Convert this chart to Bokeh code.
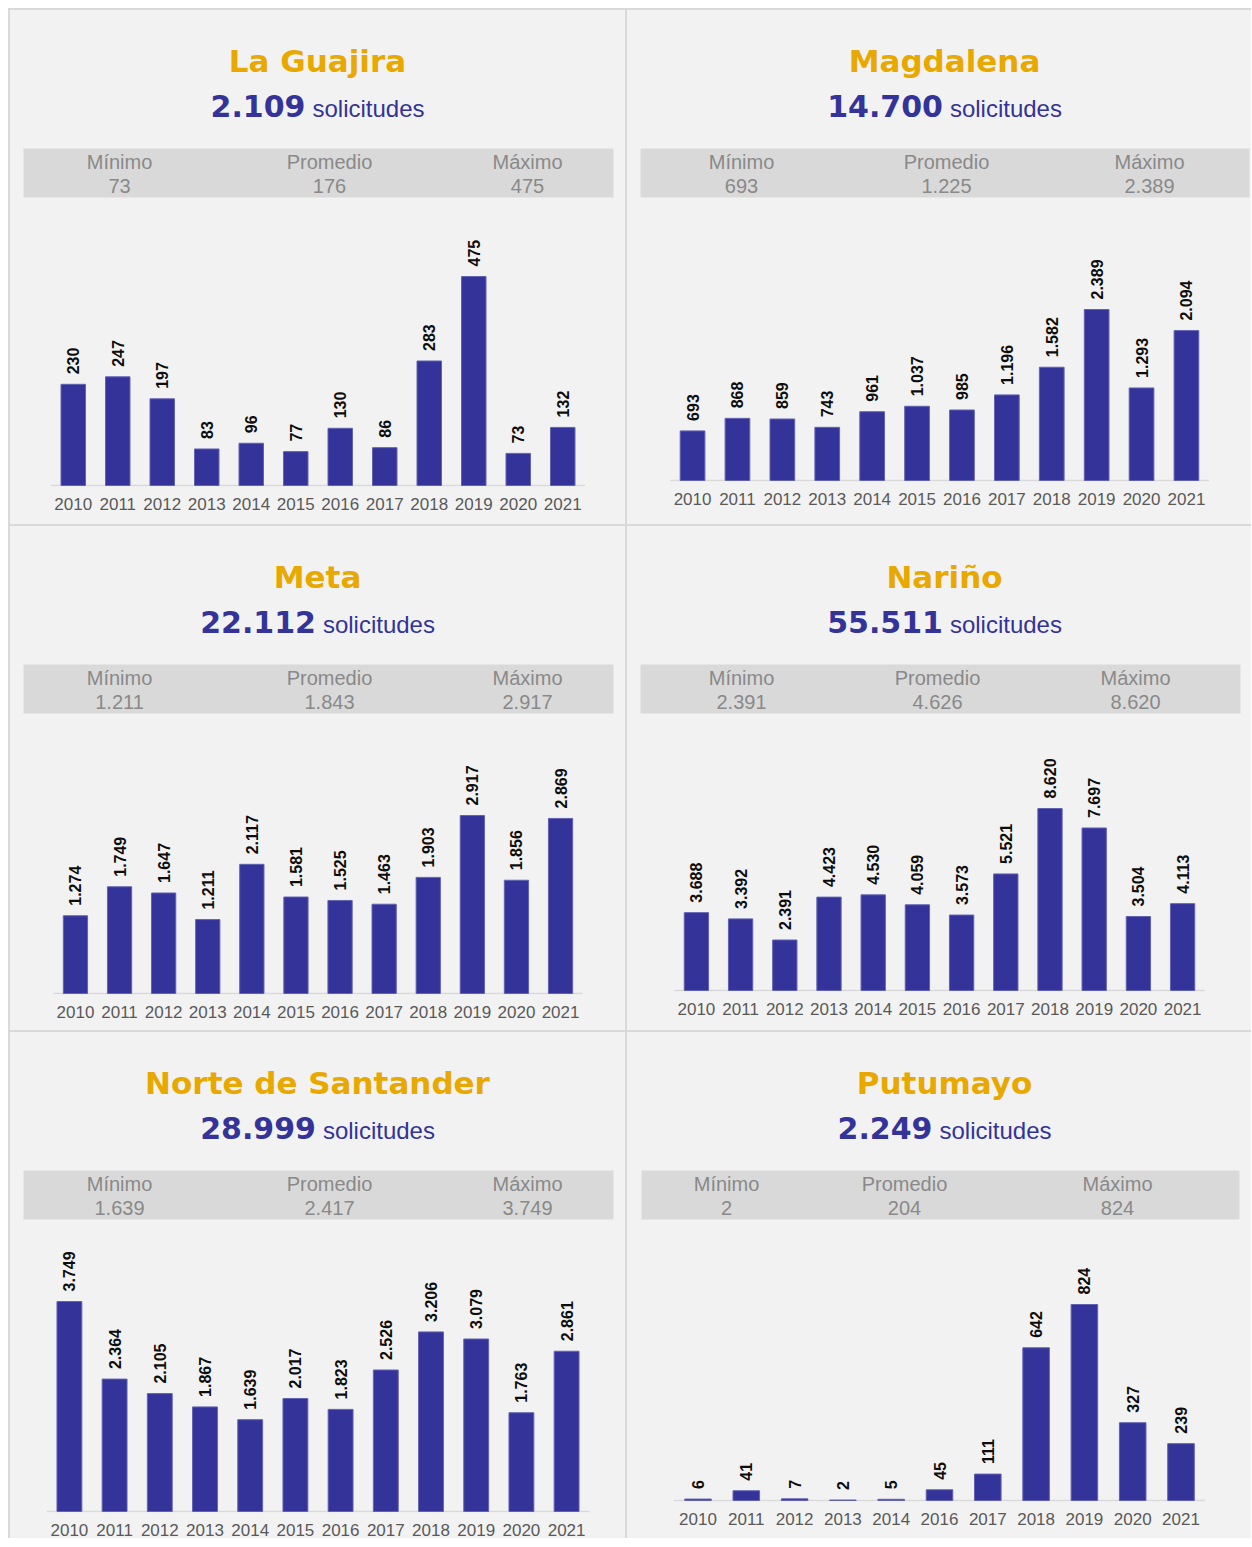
import math
from bokeh.plotting import figure
from bokeh.layouts import column, row
from bokeh.models import Range1d, FactorRange, ColumnDataSource
from bokeh.core.properties import value
from bokeh.transform import dodge
from bokeh.embed import file_html
from bokeh.resources import INLINE

# ---------------- data ----------------
YEARS = ["2010", "2011", "2012", "2013", "2014", "2015",
         "2016", "2017", "2018", "2019", "2020", "2021"]
YEARS_PUTUMAYO = ["2010", "2011", "2012", "2013", "2014",
                  "2016", "2017", "2018", "2019", "2020", "2021"]

names = ["La Guajira", "Magdalena", "Meta", "Nariño",
         "Norte de Santander", "Putumayo"]

la_guajira = [230, 247, 197, 83, 96, 77, 130, 86, 283, 475, 73, 132]
magdalena = [693, 868, 859, 743, 961, 1037, 985, 1196, 1582, 2389, 1293, 2094]
meta = [1274, 1749, 1647, 1211, 2117, 1581, 1525, 1463, 1903, 2917, 1856, 2869]
narino = [3688, 3392, 2391, 4423, 4530, 4059, 3573, 5521, 8620, 7697, 3504, 4113]
norte_santander = [3749, 2364, 2105, 1867, 1639, 2017, 1823, 2526, 3206, 3079, 1763, 2861]
putumayo = [6, 41, 7, 2, 5, 45, 111, 642, 824, 327, 239]

series = [la_guajira, magdalena, meta, narino, norte_santander, putumayo]
years_list = [YEARS, YEARS, YEARS, YEARS, YEARS, YEARS_PUTUMAYO]

stat_titles = ["Mínimo", "Promedio", "Máximo"]

# ---------------- style / layout ----------------
BG = "#f2f2f2"
LINE = "#d9d9d9"
ORANGE = "#E8A800"
BLUE = "#333399"
STAT_GREY = "#898989"
YEAR_GREY = "#595959"

HH = 192  # header height (px)

# per panel: panel width/height, title centre, band l/r, stat centres,
# category step (px), space below baseline (px), pixel height of max bar
layout = [
    dict(pw=615, ph=514, tcx=307, band=(13, 603), sc=(109, 319, 517), step=44.5, mbb=39, barpx=209),
    dict(pw=624, ph=514, tcx=317, band=(13, 622), sc=(114, 319, 522), step=44.9, mbb=44, barpx=171),
    dict(pw=615, ph=504, tcx=307, band=(13, 603), sc=(109, 319, 517), step=44.1, mbb=37, barpx=178),
    dict(pw=624, ph=504, tcx=317, band=(13, 613), sc=(114, 310, 508), step=44.2, mbb=40, barpx=182),
    dict(pw=615, ph=506, tcx=307, band=(13, 603), sc=(109, 319, 517), step=45.2, mbb=27, barpx=210),
    dict(pw=624, ph=506, tcx=317, band=(14, 612), sc=(99, 277, 490), step=48.3, mbb=38, barpx=196),
]


def fmt(v):
    return f"{v:,}".replace(",", ".")


def bold_num_width(s, size):
    w = 0.0
    for ch in s:
        w += 0.381 if ch == "." else 0.696
    return w * size


def header(name, vals, L):
    pw = L["pw"]
    p = figure(width=pw, height=HH, x_range=Range1d(0, pw), y_range=Range1d(HH, 0),
               x_axis_location=None, y_axis_location=None, toolbar_location=None,
               output_backend="svg", min_border=0, outline_line_color=None,
               background_fill_color=BG, border_fill_color=BG)
    p.grid.visible = False
    tcx = L["tcx"]
    p.text(x=[tcx], y=[50], text=[name], text_align="center", text_baseline="middle",
           text_font=value("DejaVu Sans"), text_font_style="bold",
           text_font_size="31px", text_color=ORANGE)
    total = fmt(sum(vals))
    nsize = 30
    wn = bold_num_width(total, nsize)
    ws = 112
    gap = 7
    x0 = tcx - (wn + gap + ws) / 2
    p.text(x=[x0 + wn], y=[95.5], text=[total], text_align="right", text_baseline="middle",
           text_font=value("DejaVu Sans"), text_font_style="bold",
           text_font_size=f"{nsize}px", text_color=BLUE)
    p.text(x=[x0 + wn + gap], y=[97.5], text=["solicitudes"], text_align="left",
           text_baseline="middle", text_font=value("Liberation Sans"),
           text_font_size="24px", text_color=BLUE)
    bl, br = L["band"]
    p.quad(left=[bl], right=[br], top=[138], bottom=[187], fill_color=LINE, line_color=None)
    stats = [fmt(min(vals)), fmt(round(sum(vals) / len(vals))), fmt(max(vals))]
    p.text(x=list(L["sc"]), y=[151] * 3, text=stat_titles, text_align="center",
           text_baseline="middle", text_font=value("Liberation Sans"),
           text_font_size="20px", text_color=STAT_GREY)
    p.text(x=list(L["sc"]), y=[175] * 3, text=stats, text_align="center",
           text_baseline="middle", text_font=value("Liberation Sans"),
           text_font_size="20px", text_color=STAT_GREY)
    return p


def bars(years, vals, L):
    pw = L["pw"]
    bh = L["ph"] - HH
    n = len(years)
    rp = (pw / L["step"] - n) / n
    mbb = L["mbb"] - 1            # frame ends 1px below the baseline
    frame_h = bh - mbb
    k = L["barpx"] / max(vals)    # px per unit
    ystart = -1.0 / k
    yend = ystart + frame_h / k
    p = figure(width=pw, height=bh,
               x_range=FactorRange(*years, range_padding=rp, range_padding_units="percent"),
               y_range=Range1d(ystart, yend), y_axis_location=None, toolbar_location=None,
               output_backend="svg", min_border_left=0, min_border_right=0,
               min_border_top=0, min_border_bottom=mbb, outline_line_color=None,
               background_fill_color=BG, border_fill_color=BG)
    p.grid.visible = False
    src = ColumnDataSource(dict(x=years, y=vals, lbl=[fmt(v) for v in vals]))
    # baseline (axis line) spanning the category area only
    base = ColumnDataSource(dict(x0=[years[0]], x1=[years[-1]], y=[0]))
    p.segment(x0=dodge("x0", -0.5, range=p.x_range), x1=dodge("x1", 0.5, range=p.x_range),
              y0="y", y1="y", source=base, line_color=LINE, line_width=1.5)
    p.vbar(x="x", top="y", width=0.55, bottom=0, source=src,
           fill_color=BLUE, line_color="#6262b3", line_width=1)
    p.text(x="x", y="y", text="lbl", source=src, angle=math.pi / 2,
           text_align="left", text_baseline="middle", y_offset=-10,
           text_font=value("Liberation Sans"), text_font_style="bold",
           text_font_size="16px", text_color="#0d0d0d")
    ax = p.xaxis[0]
    ax.axis_line_color = None
    ax.major_tick_line_color = None
    ax.minor_tick_line_color = None
    ax.major_tick_out = 0
    ax.major_tick_in = 0
    ax.major_label_standoff = 11
    ax.major_label_text_font = "Liberation Sans"
    ax.major_label_text_font_size = "17px"
    ax.major_label_text_color = YEAR_GREY
    return p


panels = []
for name, vals, yrs, L in zip(names, series, years_list, layout):
    panels.append(column(header(name, vals, L), bars(yrs, vals, L), spacing=0,
                         styles={"background-color": BG}))

rows = [row(panels[i], panels[i + 1], spacing=2) for i in range(0, 6, 2)]
page = column(*rows, spacing=2,
              styles={"background-color": LINE, "padding": "2px 0px 0px 2px",
                      "margin": "8px 0px 0px 8px"})

open("out.html", "w").write(file_html(page, INLINE))
